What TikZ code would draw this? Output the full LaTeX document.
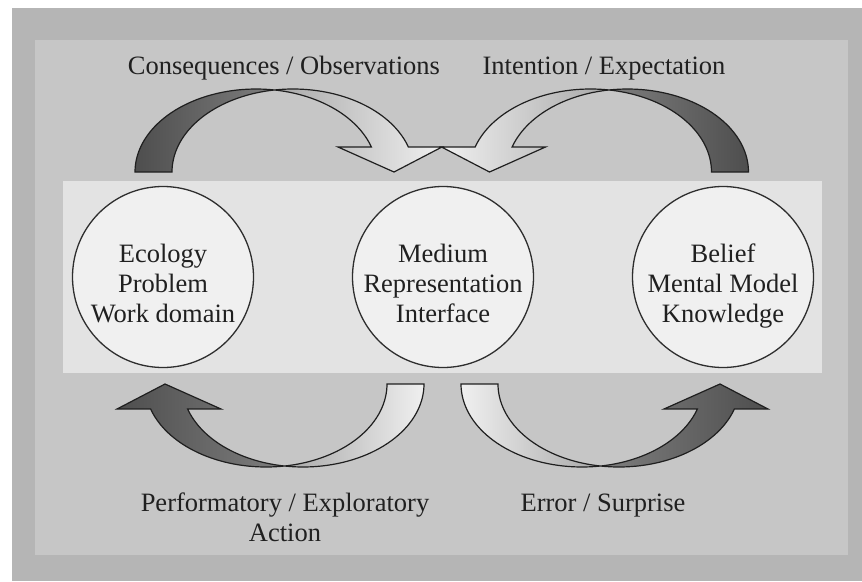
\documentclass[tikz,border=0pt]{standalone}
\usepackage{fontspec}
\setmainfont{Liberation Serif}

\definecolor{frameout}{HTML}{B5B5B5}
\definecolor{framein}{HTML}{C6C6C6}
\definecolor{band}{HTML}{E3E3E3}
\definecolor{disc}{HTML}{F0F0F0}
\definecolor{ring}{HTML}{2E2E2E}
\definecolor{txt}{HTML}{202020}
\definecolor{shA}{HTML}{4E4E4E}
\definecolor{shB}{HTML}{7E7E7E}
\definecolor{shC}{HTML}{A8A8A8}
\definecolor{shD}{HTML}{F0F0F0}

% Curved block arrow built from two equal ellipses offset sideways.
% #1,#2: x offset and x sign; #3,#4: y offset and y sign;
% #5: fill of the tail crescent; #6: fill of the head crescent.
\newcommand\bentarrow[6]{%
  \path[arrowline,#5]
    plot[domain=180:278.8,samples=40] ({#1+#2*(256+121*cos(\x))},{#3+#4*(172+83*sin(\x))})
    -- plot[domain=261.2:180,samples=40] ({#1+#2*(293+121*cos(\x))},{#3+#4*(172+83*sin(\x))})
    -- cycle;
  \path[arrowline,#6]
    plot[domain=261.2:342.5,samples=40] ({#1+#2*(293+121*cos(\x))},{#3+#4*(172+83*sin(\x))})
    -- ({#1+#2*442},{#3+#4*147})
    -- ({#1+#2*394},{#3+#4*172})
    -- ({#1+#2*338},{#3+#4*147})
    -- plot[domain=342.5:278.8,samples=40] ({#1+#2*(256+121*cos(\x))},{#3+#4*(172+83*sin(\x))})
    -- cycle;
}

\begin{document}
\begin{tikzpicture}[x=1pt,y=-1pt,
  lbl/.style={font=\fontsize{26.5}{30}\selectfont, text=txt, inner sep=0pt, align=center},
  circ/.style={circle, draw=ring, line width=1.3pt, fill=disc, minimum size=181pt, inner sep=0pt},
  arrowline/.style={draw=black!88, line width=1.2pt, line join=miter},
  darkL/.style={left color=shA, right color=shB},
  darkR/.style={left color=shB, right color=shA},
  lightL/.style={left color=shD, right color=shC},
  lightR/.style={left color=shC, right color=shD}]

\useasboundingbox (0,0) rectangle (862,581);
\fill[white] (0,0) rectangle (862,581);
\fill[frameout] (12,8) rectangle (862,581);
\fill[framein] (35,40) rectangle (848,555);
\fill[band] (63,181) rectangle (822,373);

% the three domains
\node[circ] (eco) at (163,277) {};
\node[circ] (med) at (443,277) {};
\node[circ] (bel) at (723,277) {};
\node[lbl, anchor=north] (ecotxt) at (163,244) {Ecology\\Problem\\Work domain};
\node[lbl, anchor=north] (medtxt) at (443,244) {Medium\\Representation\\Interface};
\node[lbl, anchor=north] (beltxt) at (723,244) {Belief\\Mental Model\\Knowledge};

% curved block arrows between the domains
\bentarrow{0}{1}{0}{1}{darkL}{lightR}
\bentarrow{883.5}{(-1)}{0}{1}{darkR}{lightL}
\bentarrow{559}{(-1)}{556}{(-1)}{lightR}{darkL}
\bentarrow{326}{1}{556}{(-1)}{lightL}{darkR}

% arrow labels
\node[lbl, anchor=base] (cons) at (284,74) {Consequences / Observations};
\node[lbl, anchor=base] (inten) at (604,74) {Intention / Expectation};
\node[lbl, anchor=base] (perf) at (285,541) {Performatory / Exploratory\\Action};
\node[lbl, anchor=base] (err) at (603,511) {Error / Surprise};
\end{tikzpicture}
\end{document}
